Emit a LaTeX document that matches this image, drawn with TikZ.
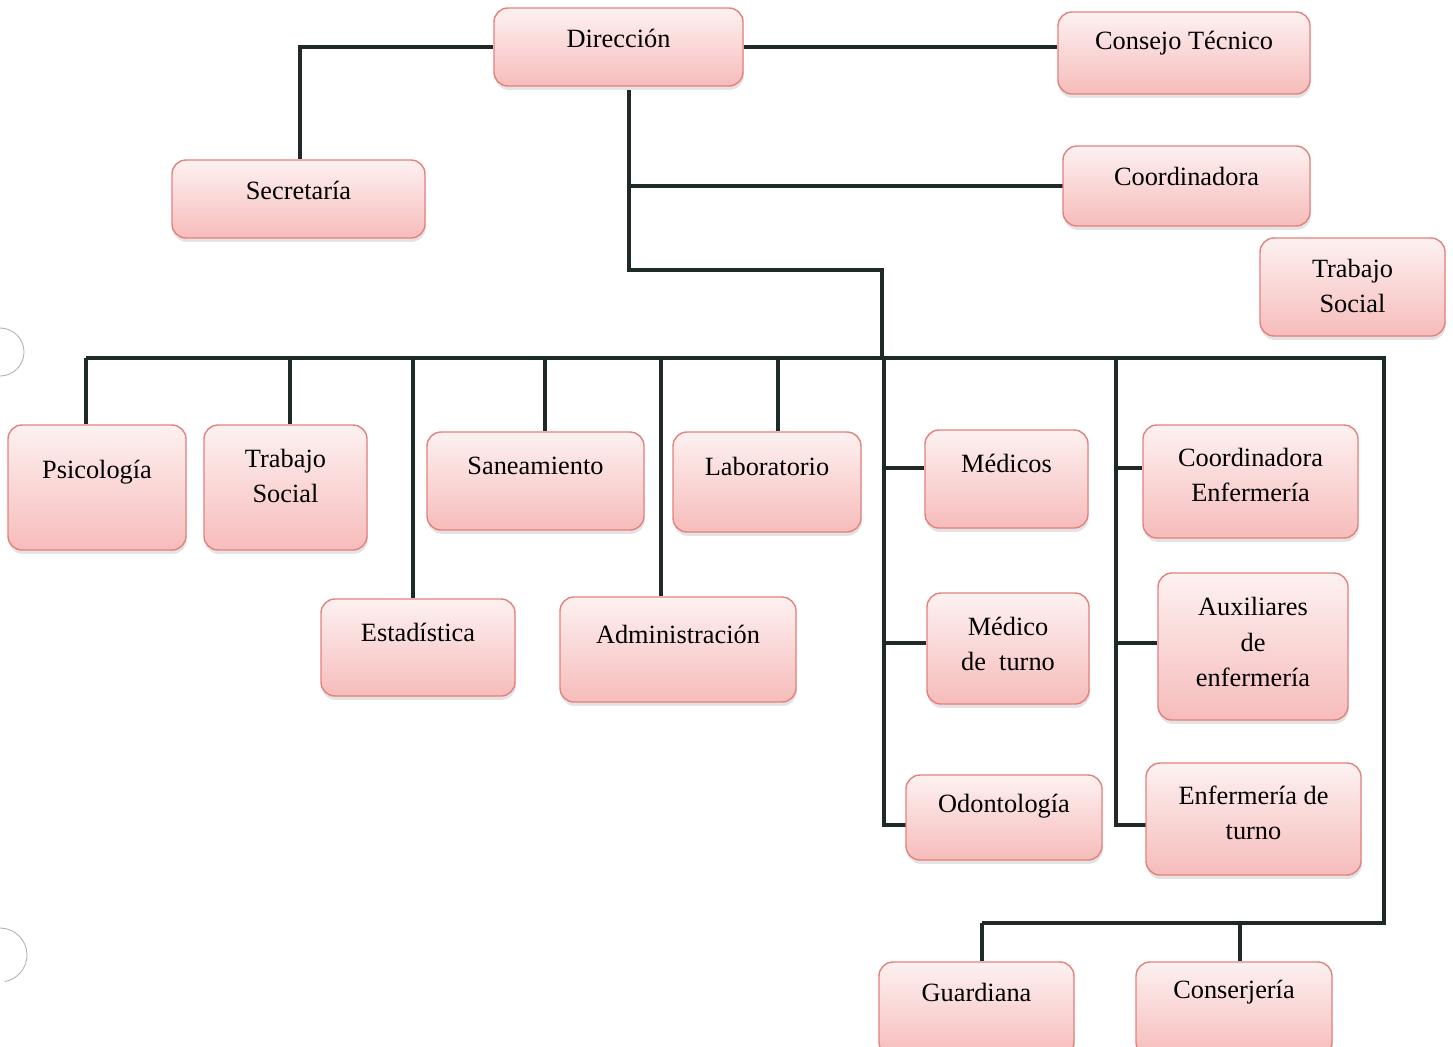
\documentclass[tikz,border=0pt]{standalone}
\usepackage{fontspec}
\setmainfont{LiberationSerif}[Extension=.ttf, UprightFont=*-Regular, BoldFont=*-Bold, ItalicFont=*-Italic, BoldItalicFont=*-BoldItalic]
\usepackage{tikz}
\usetikzlibrary{shadows}
\definecolor{boxline}{HTML}{E3817D}
\definecolor{boxtop}{HTML}{FDF1F1}
\definecolor{boxbot}{HTML}{F6BCBB}
\definecolor{linecol}{HTML}{1E2A28}
\tikzset{
  orgbox/.style={draw=boxline, line width=0.8pt, rounded corners=0.28cm, top color=boxtop, bottom color=boxbot,
    drop shadow={shadow xshift=0.4pt, shadow yshift=-2.2pt, opacity=0.22, fill=gray}},
  lbl/.style={align=center, inner sep=0pt, font=\rmfamily\fontsize{15}{20}\selectfont},
  link/.style={draw=linecol, line width=2.6pt}
}
\def\orgnode#1#2#3#4#5#6#7{%                       % name, x1, y1, x2, y2, text y, text
  \node[orgbox, minimum width={(#4-#2)*0.02cm}, minimum height={(#5-#3)*0.02cm}] (#1) at ({(#2+#4)/2},{(#3+#5)/2}) {};%
  \node[lbl] (#1-t) at ({(#2+#4)/2},#6) {#7};}
\begin{document}
\begin{tikzpicture}[x=0.02cm, y=-0.02cm]
\useasboundingbox (0,0) rectangle (1453,1046);
\draw[gray!60, line width=0.5pt] (0,328) arc[start angle=90, end angle=-90, radius=0.48cm];
\draw[gray!60, line width=0.5pt] (0,928) arc[start angle=90, end angle=-80, radius=0.54cm];
% connectors
\coordinate (tr) at (629,90);
\coordinate (bus) at (882,358);
\draw[link] (tr) |- (1063,186);
\draw[link] (tr) -- (629,270) -| (bus);
\draw[link] (86,358) -- (1384,358) -- (1384,923) -- (982,923);
\draw[link] (884,358) -- (884,825) -- (906,825);
\draw[link] (1116,358) -- (1116,825) -- (1146,825);
% boxes
\orgnode{dir}{494}{8}{743}{86}{38}{Dirección}
\orgnode{ct}{1058}{12}{1310}{94}{43}{Consejo Técnico}
\orgnode{sec}{172}{160}{425}{238}{190}{Secretaría}
\orgnode{coord}{1063}{146}{1310}{226}{176}{Coordinadora}
\orgnode{tsa}{1260}{238}{1445}{336}{286}{Trabajo\\Social}
\orgnode{psi}{8}{425}{186}{550}{472}{Psicología}
\orgnode{tsb}{204}{425}{367}{550}{476}{Trabajo\\Social}
\orgnode{san}{427}{432}{644}{530}{466}{Saneamiento}
\orgnode{lab}{673}{432}{861}{532}{466}{Laboratorio}
\orgnode{med}{925}{430}{1088}{528}{463}{Médicos}
\orgnode{cenf}{1143}{425}{1358}{538}{475}{Coordinadora\\Enfermería}
\orgnode{est}{321}{599}{515}{696}{632}{Estadística}
\orgnode{adm}{560}{597}{796}{702}{634}{Administración}
\orgnode{mdt}{927}{593}{1089}{704}{644}{Médico\\de\ \ turno}
\orgnode{aux}{1158}{573}{1348}{720}{642}{Auxiliares\\de\\enfermería}
\orgnode{odo}{906}{775}{1102}{860}{806}{Odontología}
\orgnode{etur}{1146}{763}{1361}{875}{813}{Enfermería de\\turno}
\orgnode{guard}{879}{962}{1074}{1056}{992}{Guardiana}
\orgnode{cons}{1136}{962}{1332}{1056}{992}{Conserjería}
% links into boxes
\draw[link] (dir.west) -| (sec.north -| 300,0);
\draw[link] (dir.east) -- (dir.east -| ct.west);
\foreach \n/\x in {psi/86, tsb/290, est/413, san/545, adm/661, lab/778}
  \draw[link] (\x,358) -- (\n.north -| \x,0);
\foreach \n/\x in {guard/982, cons/1240}
  \draw[link] (\x,923) -- (\n.north -| \x,0);
\foreach \n/\x/\y in {med/884/468, mdt/884/643, cenf/1116/468, aux/1116/643}
  \draw[link] (\x,\y) -- (\n.west |- 0,\y);
\end{tikzpicture}
\end{document}
